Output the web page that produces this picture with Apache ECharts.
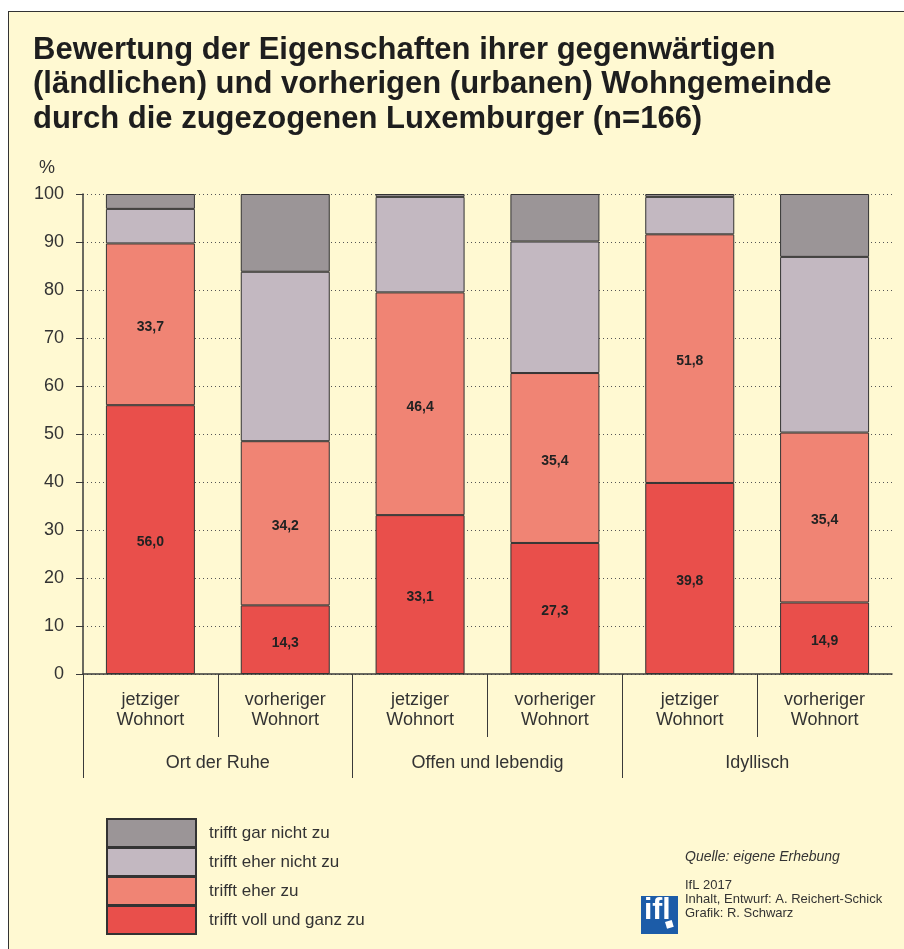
<!DOCTYPE html>
<html>
<head>
<meta charset="utf-8">
<script src="https://cdn.jsdelivr.net/npm/echarts@6/dist/echarts.min.js"></script>
<style>
body { margin: 0; background: #fff; }
#frame { position: absolute; left: 8px; top: 11px; width: 896px; height: 938px; background: #fff9d2;
	border-left: 1.5px solid #333; border-top: 1.5px solid #333; box-sizing: border-box; }
#main { position: absolute; left: 0; top: 0; width: 904px; height: 949px; }
</style>
</head>
<body>
<div id="frame"></div>
<div id="main"></div>
<script>
var categories = [ 'jetziger\nWohnort', 'vorheriger\nWohnort', 'jetziger\nWohnort',
		'vorheriger\nWohnort', 'jetziger\nWohnort', 'vorheriger\nWohnort' ];
var groups = [ 'Ort der Ruhe', 'Offen und lebendig', 'Idyllisch' ];

var trifftVoll = [ 56.0, 14.3, 33.1, 27.3, 39.8, 14.9 ];
var trifftEherZu = [ 33.7, 34.2, 46.4, 35.4, 51.8, 35.4 ];
var trifftEherNicht = [ 7.2, 35.3, 19.9, 27.4, 7.8, 36.6 ];
var trifftGarNicht = [ 3.1, 16.2, 0.6, 9.9, 0.6, 13.1 ];

var seriesNames = [ 'trifft voll und ganz zu', 'trifft eher zu',
		'trifft eher nicht zu', 'trifft gar nicht zu' ];
var seriesColors = [ '#e94f4b', '#f08474', '#c3b8c1', '#9b9597' ];

// boundary points for the separator lines below the axis (no line at the right end)
var innerEdges = [];
for (var i = 0; i <= categories.length; i++) innerEdges.push('e' + i);
var groupEdges = [];
for (var j = 0; j <= groups.length; j++) groupEdges.push('g' + j);

var font = '"Liberation Sans", Arial, Helvetica, sans-serif';

function makeSeries(idx, values, withLabel) {
	return {
		name : seriesNames[idx],
		type : 'bar',
		stack : 'one',
		barWidth : 89,
		data : values,
		itemStyle : {
			color : seriesColors[idx],
			borderColor : '#333',
			borderWidth : 1
		},
		label : {
			show : withLabel,
			position : 'inside',
			offset : [ 0, 3 ],
			fontFamily : font,
			fontWeight : 'bold',
			fontSize : 14,
			color : '#222',
			formatter : function(p) {
				return p.value.toFixed(1).replace('.', ',');
			}
		}
	};
}

function edgeAxis(edges, len) {
	return {
		type : 'category',
		data : edges,
		position : 'bottom',
		boundaryGap : false,
		axisLine : { show : false },
		axisLabel : { show : false },
		splitLine : { show : false },
		axisTick : {
			show : true,
			length : len,
			interval : function(index) {
				return index < edges.length - 1;
			},
			lineStyle : { color : '#3a3a3a', width : 1 }
		}
	};
}

var myChart = echarts.init(document.getElementById('main'));

myChart.setOption({
	textStyle : { fontFamily : font },
	title : {
		text : 'Bewertung der Eigenschaften ihrer gegenwärtigen\n(ländlichen) und vorherigen (urbanen) Wohngemeinde\ndurch die zugezogenen Luxemburger (n=166)',
		left : 28,
		top : 28,
		textStyle : {
			fontFamily : font,
			fontSize : 31,
			fontWeight : 'bold',
			lineHeight : 34.5,
			color : '#1e1e1e'
		}
	},
	grid : {
		left : 83,
		right : 12,
		top : 194,
		bottom : 275
	},
	legend : {
		orient : 'vertical',
		left : 106,
		top : 818,
		padding : 0,
		height : 125,
		itemWidth : 89,
		itemHeight : 28,
		itemGap : -1,
		icon : 'rect',
		data : [ 'trifft gar nicht zu', 'trifft eher nicht zu', 'trifft eher zu',
				'trifft voll und ganz zu' ],
		textStyle : {
			fontSize : 17,
			color : '#333',
			padding : [ 0, 0, 0, 8 ]
		}
	},
	xAxis : [ {
		type : 'category',
		data : categories,
		axisLine : {
			lineStyle : { color : '#3a3a3a', width : 1.5 }
		},
		axisTick : { show : false },
		axisLabel : {
			margin : 16,
			fontSize : 18,
			lineHeight : 20,
			color : '#333'
		}
	}, {
		type : 'category',
		data : groups,
		position : 'bottom',
		axisLine : { show : false },
		axisTick : { show : false },
		axisLabel : {
			margin : 80,
			fontSize : 18,
			color : '#333'
		}
	}, edgeAxis(innerEdges, 63), edgeAxis(groupEdges, 104) ],
	yAxis : {
		type : 'value',
		min : 0,
		max : 100,
		interval : 10,
		name : '%',
		nameLocation : 'end',
		nameGap : 17,
		nameTextStyle : {
			fontSize : 18,
			color : '#333',
			align : 'right',
			padding : [ 0, 28, 0, 0 ]
		},
		axisLine : {
			show : true,
			lineStyle : { color : '#3a3a3a', width : 1.5 }
		},
		axisTick : {
			show : true,
			length : 7,
			lineStyle : { color : '#3a3a3a' }
		},
		axisLabel : {
			margin : 19,
			fontSize : 18,
			color : '#333'
		},
		splitLine : {
			lineStyle : { color : '#555', type : [ 1, 3 ] }
		}
	},
	graphic : [ {
		type : 'text',
		left : 685,
		top : 850,
		style : {
			text : 'Quelle: eigene Erhebung',
			fontFamily : font,
			fontStyle : 'italic',
			fontSize : 14,
			fill : '#333'
		}
	}, {
		type : 'rect',
		left : 641,
		top : 896,
		shape : { width : 37, height : 38 },
		style : { fill : '#1c5ca8' }
	}, {
		type : 'text',
		left : 644,
		top : 896,
		style : {
			text : 'ifl',
			fontFamily : '"Liberation Sans Narrow", ' + font,
			fontWeight : 'bold',
			fontSize : 30,
			fill : '#fff'
		}
	}, {
		type : 'rect',
		left : 665,
		top : 920,
		rotation : 0.3,
		shape : { width : 7, height : 7 },
		style : { fill : '#fff' }
	}, {
		type : 'text',
		left : 685,
		top : 878,
		style : {
			text : 'IfL 2017\nInhalt, Entwurf: A. Reichert-Schick\nGrafik: R. Schwarz',
			fontFamily : font,
			fontSize : 13,
			lineHeight : 14,
			fill : '#333'
		}
	} ],
	series : [ makeSeries(0, trifftVoll, true),
			makeSeries(1, trifftEherZu, true),
			makeSeries(2, trifftEherNicht, false),
			makeSeries(3, trifftGarNicht, false) ]
});
</script>
</body>
</html>
